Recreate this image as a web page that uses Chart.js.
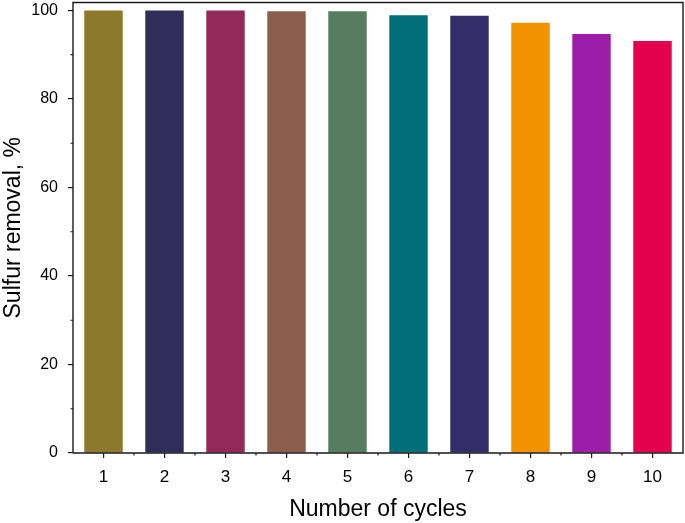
<!DOCTYPE html>
<html>
<head>
<meta charset="utf-8">
<script src="https://cdn.jsdelivr.net/npm/chart.js@4.4.0/dist/chart.umd.min.js"></script>
<style>
html,body{margin:0;padding:0;background:#fff;}
#wrap{width:685px;height:523px;position:relative;}
</style>
</head>
<body>
<div id="wrap"><canvas id="c" width="685" height="523"></canvas></div>
<script>
const categories = ["1","2","3","4","5","6","7","8","9","10"];
const sulfurRemoval = [100.0, 100.0, 100.0, 99.85, 99.8, 98.9, 98.8, 97.2, 94.7, 93.1];
const barColors = ["#8E782C","#302D5B","#922958","#8D5E4B","#567D5F","#006F7A","#332D69","#F39200","#9C1EA8","#E5004E"];
const yTickValues = [0, 20, 40, 60, 80, 100];
const yMinorValues = [10, 30, 50, 70, 90];

const frame = {
  id: 'frame',
  afterDraw(chart) {
    const ctx = chart.ctx, a = chart.chartArea;
    const xs = chart.scales.x, ys = chart.scales.y;
    ctx.save();
    ctx.strokeStyle = '#1a1a1a';
    ctx.lineWidth = 1.4;
    ctx.beginPath();
    ctx.moveTo(a.left, a.bottom);
    ctx.lineTo(a.left, a.top);
    ctx.lineTo(a.right, a.top);
    ctx.lineTo(a.right, a.bottom);
    ctx.lineTo(a.left, a.bottom);
    ctx.stroke();
    ctx.lineWidth = 1.2;
    ctx.beginPath();
    yMinorValues.forEach(v => {
      const y = ys.getPixelForValue(v);
      ctx.moveTo(a.left - 2.5, y); ctx.lineTo(a.left, y);
    });
    for (let i = 0; i < categories.length - 1; i++) {
      const x = (xs.getPixelForValue(i) + xs.getPixelForValue(i + 1)) / 2;
      ctx.moveTo(x, a.bottom); ctx.lineTo(x, a.bottom + 2.5);
    }
    ctx.stroke();
    ctx.restore();
  }
};

new Chart(document.getElementById('c'), {
  type: 'bar',
  data: {
    labels: categories,
    datasets: [{
      data: sulfurRemoval,
      backgroundColor: barColors,
      borderWidth: 0,
      categoryPercentage: 1.0,
      barPercentage: 0.63
    }]
  },
  options: {
    responsive: false,
    animation: false,
    devicePixelRatio: 1,
    layout: { padding: { top: 2.5, right: 2, left: 0, bottom: 0 } },
    plugins: { legend: { display: false }, tooltip: { enabled: false } },
    scales: {
      x: {
        offset: true,
        grid: { display: true, drawOnChartArea: false, tickLength: 5, color: '#1a1a1a', lineWidth: 1.2, offset: false },
        border: { display: false },
        ticks: { color: '#000', font: { family: 'Liberation Sans', size: 17 }, padding: 9, maxRotation: 0 },
        title: { display: true, text: 'Number of cycles', color: '#000', font: { family: 'Liberation Sans', size: 23 }, padding: { top: 6, bottom: 0 } },
        afterFit(s) { s.height = 70; s.paddingLeft = 0; s.paddingRight = 0; }
      },
      y: {
        min: 0,
        max: 101.8,
        afterBuildTicks(s) { s.ticks = yTickValues.map(v => ({ value: v })); },
        grid: { display: true, drawOnChartArea: false, tickLength: 5, color: '#1a1a1a', lineWidth: 1.2 },
        border: { display: false },
        ticks: { color: '#000', font: { family: 'Liberation Sans', size: 16 }, padding: 10 },
        title: { display: true, text: 'Sulfur removal, %', color: '#000', font: { family: 'Liberation Sans', size: 23 }, padding: { top: 0, bottom: 0 } },
        afterFit(s) { s.width = 73; s.paddingTop = 0; s.paddingBottom = 0; }
      }
    }
  },
  plugins: [frame]
});
</script>
</body>
</html>
